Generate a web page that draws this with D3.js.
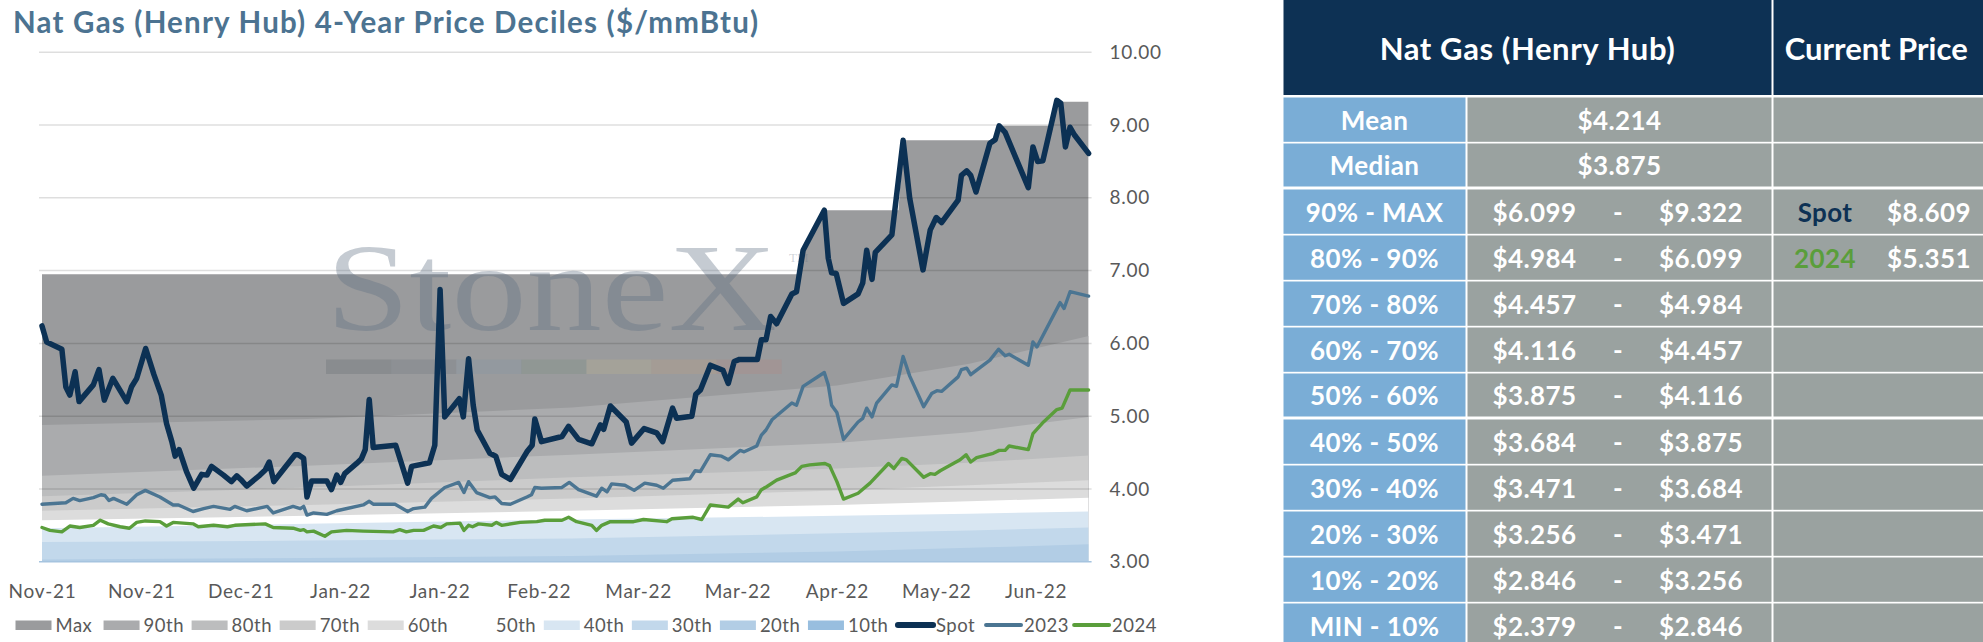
<!DOCTYPE html>
<html lang="en">
<head>
<meta charset="UTF-8">
<title>Nat Gas (Henry Hub) 4-Year Price Deciles</title>
<style>
  body { margin: 0; background: #fff; font-family: Lato, "Open Sans", sans-serif; overflow: hidden; }
  .axis text { font-family: Lato, sans-serif; font-size: 19px; fill: #595959; letter-spacing: 0.7px; }
  .axis path, .axis line { display: none; }
  .legend text { font-family: Lato, sans-serif; font-size: 18.5px; fill: #595959; letter-spacing: 0.5px; }
  .tbl text { font-family: Lato, sans-serif; fill: #fff; text-anchor: middle; dominant-baseline: central; }
</style>
</head>
<body>
<div id="chart"></div>
<script src="https://cdn.jsdelivr.net/npm/d3@7"></script>
<script>
// ---- data ----
const xTickIdx = [0, 15, 30, 45, 60, 75, 90, 105, 120, 135, 150];
const xTickLabels = ["Nov-21", "Nov-21", "Dec-21", "Jan-22", "Jan-22", "Feb-22", "Mar-22", "Mar-22", "Apr-22", "May-22", "Jun-22"];
const yTicks = [3, 4, 5, 6, 7, 8, 9, 10];

// decile boundaries, sampled along the trading-day index
const bandIdx = [0, 40, 80, 120, 140, 158];
const p90 = [4.88, 4.96, 5.12, 5.42, 5.72, 6.10];
const p80 = [4.18, 4.32, 4.47, 4.63, 4.78, 4.99];
const p70 = [3.90, 4.02, 4.16, 4.28, 4.36, 4.46];
const p60 = [3.70, 3.78, 3.87, 3.98, 4.05, 4.12];
const p50 = [3.57, 3.63, 3.70, 3.78, 3.83, 3.88];
const p40 = [3.46, 3.52, 3.58, 3.63, 3.66, 3.69];
const p30 = [3.27, 3.29, 3.32, 3.39, 3.43, 3.47];
const p20 = [3.03, 3.05, 3.08, 3.14, 3.19, 3.24];
const p10 = [2.60, 2.65, 2.70, 2.78, 2.82, 2.85];

// 4-year max (steps up with new highs)
const maxPts = [[0, 6.95], [114.2, 6.95], [114.9, 7.28], [118.1, 7.83], [129.3, 7.83], [130, 8.79],
  [144.2, 8.79], [144.5, 8.99], [152.3, 8.99], [153.2, 9.32], [158, 9.32]];

const spotPts = [[0, 6.24], [0.7, 6.02], [3.0, 5.92], [3.6, 5.40], [4.2, 5.29], [5.0, 5.61], [5.6, 5.20],
  [7.75, 5.43], [8.6, 5.64], [9.4, 5.22], [10.7, 5.52], [12.8, 5.20], [13.5, 5.40], [14.3, 5.52],
  [15.65, 5.93], [16.9, 5.57], [18.0, 5.29], [18.8, 4.90], [19.6, 4.65], [20.1, 4.45], [20.7, 4.54],
  [21.8, 4.24], [22.9, 4.01], [24.1, 4.20], [24.9, 4.19], [25.6, 4.31], [27.4, 4.19], [28.6, 4.10],
  [29.4, 4.18], [30.0, 4.13], [30.9, 4.04], [32.9, 4.19], [33.7, 4.26], [34.3, 4.37], [35.0, 4.10],
  [36.2, 4.24], [38.2, 4.47], [38.7, 4.47], [39.5, 4.42], [40.0, 3.89], [40.7, 4.11], [43.0, 4.11],
  [43.7, 3.99], [44.5, 4.19], [45.1, 4.09], [45.7, 4.21], [47.5, 4.35], [48.2, 4.41], [48.8, 4.54],
  [49.4, 5.23], [50.0, 4.57], [53.4, 4.60], [55.2, 4.08], [55.8, 4.31], [58.5, 4.36], [59.3, 4.60],
  [60.1, 6.74], [60.8, 4.99], [63.0, 5.24], [63.6, 4.99], [64.4, 5.79], [65.1, 5.15], [65.7, 4.81],
  [67.6, 4.49], [68.5, 4.45], [69.4, 4.20], [70.7, 4.13], [73.2, 4.51], [74.0, 4.60], [74.4, 4.96],
  [75.4, 4.65], [78.5, 4.72], [79.5, 4.86], [81.0, 4.68], [83.0, 4.62], [84.3, 4.88], [84.8, 4.82],
  [85.8, 5.14], [88.2, 4.92], [89.0, 4.63], [90.9, 4.83], [92.8, 4.77], [93.7, 4.65], [95.2, 5.11],
  [95.8, 4.97], [98.1, 5.00], [98.7, 5.30], [99.4, 5.36], [100.9, 5.70], [102.8, 5.63], [103.6, 5.45],
  [104.5, 5.75], [105.3, 5.78], [108.0, 5.78], [108.6, 6.05], [109.3, 6.05], [110.0, 6.37], [110.9, 6.27],
  [113.2, 6.68], [113.9, 6.71], [114.9, 7.28], [118.1, 7.83], [118.7, 7.17], [119.2, 6.97], [119.9, 6.96],
  [121.0, 6.55], [123.2, 6.68], [123.9, 6.83], [124.5, 7.28], [125.3, 6.88], [125.8, 7.25], [128.3, 7.49],
  [130.0, 8.79], [131.0, 7.99], [133.0, 7.01], [134.1, 7.56], [135.0, 7.73], [135.8, 7.66], [138.3, 7.97],
  [138.8, 8.31], [139.6, 8.37], [140.2, 8.31], [141.0, 8.08], [143.1, 8.75], [143.9, 8.80], [144.5, 8.99],
  [145.4, 8.90], [148.9, 8.14], [149.6, 8.70], [150.3, 8.50], [151.1, 8.51], [153.2, 9.34], [153.8, 9.30],
  [154.5, 8.70], [155.2, 8.97], [155.9, 8.86], [158, 8.61]];

const y2023Pts = [[0, 3.79], [3.6, 3.81], [4.7, 3.87], [5.7, 3.84], [7.75, 3.88], [8.9, 3.92], [9.5, 3.91],
  [10.1, 3.84], [10.8, 3.87], [12.8, 3.79], [14.3, 3.92], [15.6, 3.98], [17.8, 3.89], [19.8, 3.78],
  [20.6, 3.78], [22.8, 3.69], [24.4, 3.73], [25.9, 3.76], [28.4, 3.72], [29.1, 3.76], [30.9, 3.70],
  [34.0, 3.76], [34.9, 3.67], [37.9, 3.76], [39.0, 3.73], [39.5, 3.76], [40.0, 3.64], [41.0, 3.67],
  [43.0, 3.65], [44.5, 3.70], [48.5, 3.78], [49.4, 3.83], [50.0, 3.79], [53.3, 3.79], [55.2, 3.69],
  [56.1, 3.73], [57.8, 3.75], [58.8, 3.87], [60.8, 4.02], [62.9, 4.09], [63.7, 3.95], [64.4, 4.10],
  [65.6, 3.95], [67.6, 3.88], [68.4, 3.89], [69.4, 3.80], [70.7, 3.79], [73.2, 3.89], [73.9, 3.92],
  [74.4, 4.02], [75.4, 4.01], [78.5, 4.02], [79.6, 4.09], [81.0, 3.99], [83.7, 3.90], [84.5, 4.01],
  [85.3, 3.96], [86.0, 4.07], [88.0, 4.05], [89.4, 3.98], [91.0, 4.08], [92.8, 4.05], [93.8, 4.01],
  [95.2, 4.12], [97.8, 4.14], [98.6, 4.25], [99.4, 4.24], [100.9, 4.47], [102.6, 4.45], [103.6, 4.40],
  [105.4, 4.53], [106.0, 4.51], [107.9, 4.59], [108.6, 4.74], [109.3, 4.81], [110.2, 4.95], [113.2, 5.18],
  [113.9, 5.15], [114.9, 5.41], [118.1, 5.60], [118.7, 5.43], [119.2, 5.15], [120.0, 5.05], [121.0, 4.68],
  [123.2, 4.92], [123.9, 4.97], [124.5, 5.11], [125.3, 4.99], [126.0, 5.18], [128.3, 5.43], [129.0, 5.41],
  [130.0, 5.82], [131.0, 5.55], [133.1, 5.13], [134.3, 5.31], [135.1, 5.35], [135.8, 5.34], [138.3, 5.54],
  [138.8, 5.64], [139.6, 5.66], [140.2, 5.57], [143.1, 5.77], [144.4, 5.92], [145.4, 5.83], [146.0, 5.85],
  [148.9, 5.70], [149.6, 6.02], [150.2, 5.95], [153.7, 6.56], [154.3, 6.48], [155.2, 6.71], [158, 6.65]];

const y2024Pts = [[0, 3.47], [1.2, 3.43], [3.0, 3.41], [4.2, 3.49], [5.7, 3.47], [7.75, 3.50], [8.8, 3.57],
  [10.0, 3.52], [11.8, 3.48], [13.2, 3.46], [14.3, 3.54], [15.6, 3.56], [17.8, 3.55], [18.8, 3.49],
  [19.8, 3.54], [22.8, 3.52], [23.6, 3.48], [25.9, 3.50], [28.0, 3.48], [29.1, 3.50], [33.7, 3.52],
  [34.9, 3.47], [37.9, 3.46], [39.0, 3.43], [39.5, 3.44], [40.0, 3.41], [41.0, 3.42], [42.7, 3.35],
  [43.7, 3.41], [46.0, 3.43], [48.5, 3.42], [53.0, 3.41], [54.0, 3.44], [55.0, 3.41], [56.1, 3.43],
  [57.6, 3.43], [59.1, 3.49], [60.2, 3.47], [61.1, 3.52], [63.1, 3.53], [63.7, 3.43], [64.4, 3.50],
  [65.0, 3.48], [65.9, 3.52], [67.9, 3.50], [68.6, 3.54], [69.4, 3.50], [72.2, 3.54], [74.7, 3.55],
  [75.9, 3.57], [78.5, 3.57], [79.5, 3.61], [80.7, 3.55], [83.0, 3.50], [83.7, 3.43], [84.5, 3.50],
  [85.8, 3.55], [89.3, 3.55], [90.8, 3.58], [94.3, 3.55], [95.1, 3.59], [98.3, 3.61], [99.6, 3.58],
  [100.9, 3.78], [103.6, 3.75], [105.1, 3.86], [105.8, 3.81], [107.9, 3.89], [108.6, 3.99], [109.4, 4.03],
  [110.9, 4.12], [113.7, 4.22], [114.7, 4.31], [115.9, 4.33], [118.2, 4.35], [118.9, 4.32], [120.0, 4.10],
  [121.0, 3.86], [123.2, 3.94], [125.0, 4.08], [127.8, 4.35], [128.6, 4.28], [129.8, 4.42], [130.5, 4.40],
  [133.1, 4.16], [134.1, 4.21], [134.8, 4.20], [135.6, 4.25], [138.6, 4.40], [139.5, 4.47], [140.2, 4.37],
  [141.1, 4.43], [143.6, 4.49], [144.5, 4.53], [145.4, 4.53], [146.0, 4.59], [148.9, 4.54], [149.6, 4.76],
  [151.2, 4.92], [153.2, 5.09], [154.0, 5.11], [155.2, 5.36], [158, 5.36]];

// table
const tableHeader = ["Nat Gas (Henry Hub)", "Current Price"];
const rowLabels = ["Mean", "Median", "90% - MAX", "80% - 90%", "70% - 80%", "60% - 70%", "50% - 60%",
  "40% - 50%", "30% - 40%", "20% - 30%", "10% - 20%", "MIN - 10%"];
const lowVals = [4.214, 3.875, 6.099, 4.984, 4.457, 4.116, 3.875, 3.684, 3.471, 3.256, 2.846, 2.379];
const highVals = [null, null, 9.322, 6.099, 4.984, 4.457, 4.116, 3.875, 3.684, 3.471, 3.256, 2.846];
const currentNames = ["Spot", "2024"];
const currentVals = [8.609, 5.351];

// bands drawn from the top down; each label is the band's upper decile
const bands = [
  { name: "Max", vals: null, color: "#9a9b9d" },
  { name: "90th", vals: p90, color: "#aaabad" },
  { name: "80th", vals: p80, color: "#bcbdbe" },
  { name: "70th", vals: p70, color: "#cbcbcb" },
  { name: "60th", vals: p60, color: "#dcdcdc" },
  { name: "50th", vals: p50, color: "#ffffff" },
  { name: "40th", vals: p40, color: "#d8e6f2" },
  { name: "30th", vals: p30, color: "#c2d8eb" },
  { name: "20th", vals: p20, color: "#b2cde5" },
  { name: "10th", vals: p10, color: "#98bedf" }
];
const lines = [
  { name: "Spot", pts: spotPts, color: "#0c3154", width: 5.5 },
  { name: "2023", pts: y2023Pts, color: "#4b7592", width: 3.4 },
  { name: "2024", pts: y2024Pts, color: "#5a9e3b", width: 3.4 }
];

// ---- layout ----
const W = 1983, H = 642;
const plot = { left: 42, right: 1088.6, top: 52.3, bottom: 561.7 };

const svg = d3.select("#chart").append("svg").attr("width", W).attr("height", H);

const x = d3.scaleLinear().domain([0, 158]).range([plot.left, plot.right]);
const y = d3.scaleLinear().domain([3, 10]).range([plot.bottom, plot.top]);

svg.append("text")
  .attr("x", 13).attr("y", 33)
  .style("font-family", "Lato, sans-serif").style("font-weight", 700)
  .style("font-size", "29.5px").style("fill", "#4c7391").style("letter-spacing", "1.2px")
  .text("Nat Gas (Henry Hub) 4-Year Price Deciles ($/mmBtu)");

svg.append("defs").append("clipPath").attr("id", "plotclip")
  .append("rect").attr("x", plot.left).attr("y", plot.top - 10)
  .attr("width", plot.right - plot.left).attr("height", plot.bottom - plot.top + 10);

const bandG = svg.append("g").attr("clip-path", "url(#plotclip)");
bands.forEach(b => {
  const pts = b.vals ? bandIdx.map((d, i) => [d, b.vals[i]]) : maxPts;
  const area = d3.area().x(d => x(d[0])).y0(plot.bottom).y1(d => y(d[1]));
  bandG.append("path").attr("d", area(pts)).attr("fill", b.color);
});

// gridlines
svg.append("g").selectAll("line").data(yTicks.slice(1)).join("line")
  .attr("x1", plot.left - 3).attr("x2", plot.right + 3)
  .attr("y1", d => y(d)).attr("y2", d => y(d))
  .attr("stroke", "rgba(0,0,0,0.13)").attr("stroke-width", 1.5);

svg.append("line")
  .attr("x1", plot.left - 3).attr("x2", plot.right + 3)
  .attr("y1", plot.bottom).attr("y2", plot.bottom)
  .attr("stroke", "#a6c4df").attr("stroke-width", 1.5);

// watermark
const wm = svg.append("g");
wm.append("text")
  .attr("x", 326).attr("y", 330)
  .attr("textLength", 451).attr("lengthAdjust", "spacingAndGlyphs")
  .style("font-family", "'Liberation Serif', 'DejaVu Serif', serif")
  .style("font-size", "124px")
  .style("fill", "#5f6f82").style("fill-opacity", 0.36)
  .text("StoneX");
wm.append("text")
  .attr("x", 789).attr("y", 262)
  .style("font-family", "'Liberation Serif', serif").style("font-size", "13px")
  .style("fill", "#5f6f82").style("fill-opacity", 0.3)
  .text("TM");
const stripColors = ["#4d5560", "#5e6a76", "#7d93a8", "#6e8a78", "#c9bb8c", "#c9a07c", "#b9807c"];
wm.selectAll("rect").data(stripColors).join("rect")
  .attr("x", (d, i) => 326 + i * 65.1).attr("y", 359.5)
  .attr("width", 65.1).attr("height", 14.5)
  .attr("fill", d => d).attr("fill-opacity", 0.22);

// series lines
const lineGen = d3.line().x(d => x(d[0])).y(d => y(d[1]));
svg.append("g").selectAll("path").data(lines.slice().reverse()).join("path")
  .attr("d", d => lineGen(d.pts))
  .attr("fill", "none").attr("stroke", d => d.color)
  .attr("stroke-width", d => d.width)
  .attr("stroke-linejoin", "round").attr("stroke-linecap", "round");

// axes
svg.append("g").attr("class", "axis")
  .attr("transform", `translate(0,${plot.bottom})`)
  .call(d3.axisBottom(x).tickValues(xTickIdx).tickSize(0).tickPadding(23)
    .tickFormat((d, i) => xTickLabels[i]));

svg.append("g").attr("class", "axis")
  .attr("transform", `translate(${plot.right},0)`)
  .call(d3.axisRight(y).tickValues(yTicks).tickSize(0).tickPadding(21)
    .tickFormat(d3.format(".2f")));

// legend
const legendY = 625;
const leg = svg.append("g").attr("class", "legend");
const legendItems = bands.map(b => ({ name: b.name, color: b.color, type: "box" }))
  .concat(lines.map(l => ({ name: l.name, color: l.color, type: "line", width: l.width })));
legendItems.forEach((d, i) => {
  const lx = 15.5 + i * 88.05;
  if (d.type === "box") {
    leg.append("rect").attr("x", lx).attr("y", legendY - 4.5)
      .attr("width", 36).attr("height", 9.5).attr("fill", d.color);
    leg.append("text").attr("x", lx + 40).attr("y", legendY + 6.5).text(d.name);
  } else {
    leg.append("line").attr("x1", lx + 2).attr("x2", lx + 37)
      .attr("y1", legendY).attr("y2", legendY)
      .attr("stroke", d.color).attr("stroke-width", d.width + 0.6)
      .attr("stroke-linecap", "round");
    leg.append("text").attr("x", lx + 40).attr("y", legendY + 6.5).text(d.name);
  }
});

// ---- table ----
const tbl = svg.append("g").attr("class", "tbl");
const col = { lab: [1283.5, 1465.5], val: [1467.5, 1771.5], cur: [1773.5, 1983] };
const navy = "#0d3154", blue = "#7aadd6", gray = "#9aa2a0";

tbl.append("rect").attr("x", col.lab[0]).attr("y", 0)
  .attr("width", col.val[1] - col.lab[0]).attr("height", 95).attr("fill", navy);
tbl.append("rect").attr("x", col.cur[0]).attr("y", 0)
  .attr("width", col.cur[1] - col.cur[0]).attr("height", 95).attr("fill", navy);
tbl.append("text").attr("x", (col.lab[0] + col.val[1]) / 2).attr("y", 48)
  .style("font-size", "31px").style("font-weight", 700).style("letter-spacing", "0.6px").text(tableHeader[0]);
tbl.append("text").attr("x", (col.cur[0] + col.cur[1]) / 2 - 2).attr("y", 48)
  .style("font-size", "31px").style("font-weight", 700).text(tableHeader[1]);

const fmt = d3.format(".3f");
rowLabels.forEach((lab, r) => {
  const top = 97.5 + r * 46;
  const h = (r === 1 || r === 6) ? 43 : 44.3;
  const cy = top + h / 2;
  tbl.append("rect").attr("x", col.lab[0]).attr("y", top)
    .attr("width", col.lab[1] - col.lab[0]).attr("height", h).attr("fill", blue);
  tbl.append("rect").attr("x", col.val[0]).attr("y", top)
    .attr("width", col.val[1] - col.val[0]).attr("height", h).attr("fill", gray);
  tbl.append("rect").attr("x", col.cur[0]).attr("y", top)
    .attr("width", col.cur[1] - col.cur[0]).attr("height", h).attr("fill", gray);

  const ts = t => t.style("font-size", "26px").style("font-weight", 700).style("letter-spacing", "0.4px");
  ts(tbl.append("text").attr("x", (col.lab[0] + col.lab[1]) / 2).attr("y", cy).text(lab));
  if (highVals[r] === null) {
    ts(tbl.append("text").attr("x", (col.val[0] + col.val[1]) / 2).attr("y", cy).text("$" + fmt(lowVals[r])));
  } else {
    ts(tbl.append("text").attr("x", 1534.5).attr("y", cy).text("$" + fmt(lowVals[r])));
    ts(tbl.append("text").attr("x", 1618).attr("y", cy).text("-"));
    ts(tbl.append("text").attr("x", 1701).attr("y", cy).text("$" + fmt(highVals[r])));
  }
  const ci = r - 2;
  if (ci >= 0 && ci < currentNames.length) {
    ts(tbl.append("text").attr("x", 1825).attr("y", cy)
      .style("fill", ci === 0 ? navy : "#5a9e3b").text(currentNames[ci]));
    ts(tbl.append("text").attr("x", 1929).attr("y", cy).text("$" + fmt(currentVals[ci])));
  }
});
</script>
</body>
</html>
